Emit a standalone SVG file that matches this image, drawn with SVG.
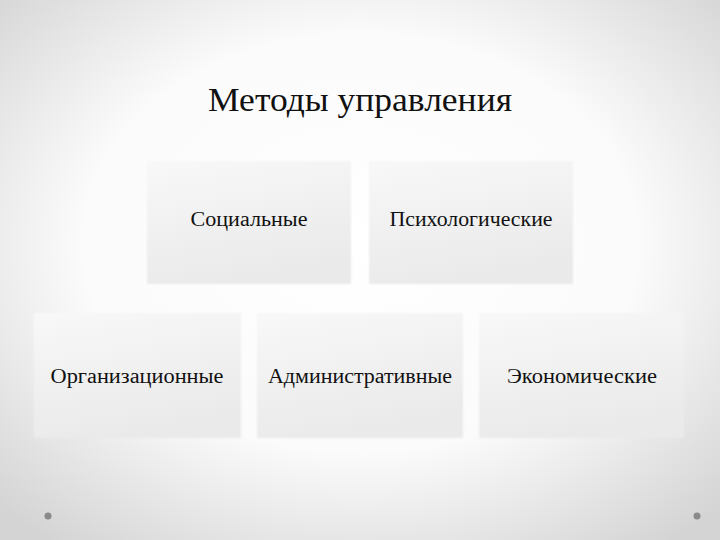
<svg xmlns="http://www.w3.org/2000/svg" width="720" height="540" viewBox="0 0 720 540">
  <defs>
    <radialGradient id="bg" cx="50%" cy="45%" r="70%">
      <stop offset="0" stop-color="#ffffff"/>
      <stop offset="0.55" stop-color="#fbfbfb"/>
      <stop offset="1" stop-color="#d4d4d4"/>
    </radialGradient>
    <linearGradient id="box" x1="0" y1="0" x2="0.3" y2="1">
      <stop offset="0" stop-color="#f8f8f8"/>
      <stop offset="1" stop-color="#eaeaea"/>
    </linearGradient>
    <filter id="soft" x="-5%" y="-5%" width="110%" height="110%">
      <feGaussianBlur stdDeviation="1.2"/>
    </filter>
  </defs>
  <style>
    .node rect { fill: url(#box); }
    .shadow { fill: #e2e2e2; }
    .lbl { font-family: "Liberation Serif", "DejaVu Serif", serif; font-size: 20px; fill: #111; text-anchor: middle; }
    .title { font-family: "Liberation Serif", "DejaVu Serif", serif; font-size: 34px; fill: #111; text-anchor: middle; }
    .dot { fill: #8a8a8a; }
  </style>
  <rect x="0" y="0" width="720" height="540" fill="url(#bg)"/>
  <text class="title" x="360" y="111" textLength="304" lengthAdjust="spacingAndGlyphs">Методы управления</text>
  <g id="connectors"/>
  <g id="n-social" class="node">
    <rect class="shadow" x="147" y="161" width="204" height="123" filter="url(#soft)"/>
    <rect x="148" y="162" width="202" height="121"/>
    <text class="lbl" x="249" y="226" textLength="117" lengthAdjust="spacingAndGlyphs">Социальные</text>
  </g>
  <g id="n-psych" class="node">
    <rect class="shadow" x="369" y="161" width="204" height="123" filter="url(#soft)"/>
    <rect x="370" y="162" width="202" height="121"/>
    <text class="lbl" x="471" y="226" textLength="163" lengthAdjust="spacingAndGlyphs">Психологические</text>
  </g>
  <g id="n-org" class="node">
    <rect class="shadow" x="34" y="313" width="207" height="125" filter="url(#soft)"/>
    <rect x="35" y="314" width="205" height="123"/>
    <text class="lbl" x="137" y="383" textLength="173" lengthAdjust="spacingAndGlyphs">Организационные</text>
  </g>
  <g id="n-admin" class="node">
    <rect class="shadow" x="257" y="313" width="206" height="125" filter="url(#soft)"/>
    <rect x="258" y="314" width="204" height="123"/>
    <text class="lbl" x="360" y="383" textLength="184" lengthAdjust="spacingAndGlyphs">Административные</text>
  </g>
  <g id="n-econ" class="node">
    <rect class="shadow" x="479" y="313" width="205" height="125" filter="url(#soft)"/>
    <rect x="480" y="314" width="203" height="123"/>
    <text class="lbl" x="582" y="383" textLength="150" lengthAdjust="spacingAndGlyphs">Экономические</text>
  </g>
  <circle class="dot" cx="48" cy="516" r="3.5"/>
  <circle class="dot" cx="697" cy="516" r="3.5"/>
</svg>
